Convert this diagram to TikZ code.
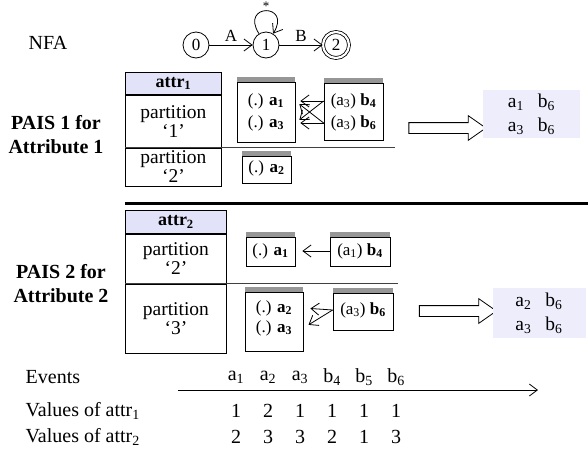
\documentclass[tikz,border=0pt]{standalone}
\usepackage{fontspec}
\setmainfont{Liberation Serif}
\usetikzlibrary{automata,positioning,arrows.meta,shapes.arrows}
\definecolor{headfill}{RGB}{226,226,248}
\definecolor{resfill}{RGB}{237,237,252}
\definecolor{bargray}{RGB}{150,150,150}

\begin{document}
\begin{tikzpicture}[x=1pt,y=-1pt,line width=0.8pt,>={Straight Barb[length=8pt,width=12pt]},
	font=\fontsize{20}{22}\selectfont,
	every state/.style={draw,minimum size=26pt,inner sep=0pt,font=\fontsize{17}{17}\selectfont},
	accepting/.style={double,double distance=2.2pt},
	every loop/.style={looseness=6.5,min distance=0pt,out=122,in=58},
	pais/.style={align=center,font=\bfseries\fontsize{20}{24}\selectfont},
	head/.style={draw,fill=headfill,inner sep=0pt,anchor=north west,font=\bfseries\fontsize{18}{20}\selectfont},
	part/.style={draw,inner sep=0pt,anchor=north,align=center,font=\fontsize{19.5}{19}\selectfont},
	box/.style={draw,inner sep=0pt},
	entry/.style={inner sep=0pt,font=\fontsize{17}{17}\selectfont},
	rule/.style={draw=black!75,line width=1.2pt},
	result/.style={fill=resfill,inner sep=0pt,align=center,font=\fontsize{19.5}{24}\selectfont},
	bigarrow/.style={draw,single arrow,single arrow head extend=7pt,single arrow tip angle=70,inner xsep=0pt,inner ysep=5pt,minimum height=77pt}]
\useasboundingbox (0,0) rectangle (588,450);

% NFA
\node (nfa) at (48,43) {NFA};
\begin{scope}[node distance=70pt,on grid,auto]
	\node[state] (q_0) at (196,45) {0};
	\node[state] (q_1) [right=of q_0] {1};
	\node[state,accepting] (q_2) [right=of q_1] {2};
	\path[->,font=\fontsize{17}{17}\selectfont]
	(q_0) edge node {A} (q_1)
	(q_1) edge node {B} (q_2)
	(q_1) edge [loop above] node [inner sep=0pt,font=\fontsize{13}{13}\selectfont] {*} (q_1);
\end{scope}

% PAIS 1
\node[pais] (pais1) at (56,135) {PAIS 1 for\\Attribute 1};
\node[head,minimum width=96pt,minimum height=22pt] (attr1) at (125,72) {attr\textsubscript{1}};
\node[part,minimum width=96pt,minimum height=52pt] (part1a) at (attr1.south) {partition\\‘1’};
\node[part,minimum width=96pt,minimum height=38pt] (part1b) at (part1a.south) {partition\\‘2’};
\coordinate (rule1) at (395,146);
\draw[rule] (part1a.south west) -- (part1a.south west -| rule1);

\node[box,minimum width=58pt,minimum height=60pt] (box1a) at (266,112) {};
\node[box,minimum width=59pt,minimum height=57pt] (box1b) at (353.5,111.5) {};
\node[box,minimum width=49pt,minimum height=27pt] (box1c) at (266.5,169.5) {};
\node[entry] (e1a1) at (266,101) {(.) \textbf{a\textsubscript{1}}};
\node[entry] (e1a3) at (266,123) {(.) \textbf{a\textsubscript{3}}};
\node[entry] (e1b4) at (353.5,101) {(a\textsubscript{3}) \textbf{b\textsubscript{4}}};
\node[entry] (e1b6) at (353.5,123) {(a\textsubscript{3}) \textbf{b\textsubscript{6}}};
\node[entry] (e1a2) at (266.5,168) {(.) \textbf{a\textsubscript{2}}};
\draw[->,shorten >=5pt] (e1b4 -| box1b.west) -- (e1a1 -| box1a.east);
\draw[->,shorten >=5pt] (e1b4 -| box1b.west) -- (e1a3 -| box1a.east);
\draw[->,shorten >=5pt] (e1b6 -| box1b.west) -- (e1a1 -| box1a.east);
\draw[->,shorten >=5pt] (e1b6 -| box1b.west) -- (e1a3 -| box1a.east);

\node[bigarrow] (arr1) at (443.5,128) {};
\node[result,minimum width=97pt,minimum height=48pt] (res1) at (531.5,114)
	{a\textsubscript{1}\hspace{14pt}b\textsubscript{6}\\a\textsubscript{3}\hspace{14pt}b\textsubscript{6}};

% separator
\coordinate (sepL) at (125,203);
\coordinate (sepR) at (588,203);
\draw[line width=3pt] (sepL) -- (sepR);

% PAIS 2
\node[pais] (pais2) at (61,284) {PAIS 2 for\\Attribute 2};
\node[head,minimum width=101pt,minimum height=23pt] (attr2) at (125,210) {attr\textsubscript{2}};
\node[part,minimum width=101pt,minimum height=49pt] (part2a) at (attr2.south) {partition\\‘2’};
\node[part,minimum width=101pt,minimum height=69pt] (part2b) at (part2a.south) {partition\\‘3’};
\coordinate (rule2) at (398,282);
\draw[rule] (part2a.south west) -- (part2a.south west -| rule2);

\node[box,minimum width=49pt,minimum height=29pt] (box2a) at (270.5,251.5) {};
\node[box,minimum width=60pt,minimum height=29pt] (box2b) at (360,251.5) {};
\node[box,minimum width=58pt,minimum height=59pt] (box2c) at (274,321.5) {};
\node[box,minimum width=60pt,minimum height=37pt] (box2d) at (363,311.5) {};
\node[entry] (e2a1) at (270.5,251) {(.) \textbf{a\textsubscript{1}}};
\node[entry] (e2b4) at (360,251) {(a\textsubscript{1}) \textbf{b\textsubscript{4}}};
\node[entry] (e2a2) at (274,308) {(.) \textbf{a\textsubscript{2}}};
\node[entry] (e2a3) at (274,328) {(.) \textbf{a\textsubscript{3}}};
\node[entry] (e2b6) at (363,310) {(a\textsubscript{3}) \textbf{b\textsubscript{6}}};
\draw[->,shorten >=7pt] (e2b4 -| box2b.west) -- (e2a1 -| box2a.east);
\draw[->,shorten >=7pt] (e2b6 -| box2d.west) -- (e2a2 -| box2c.east);
\draw[->,shorten >=6pt] (e2b6 -| box2d.west) -- (e2a3 -| box2c.east);

\node[bigarrow] (arr2) at (454,311) {};
\node[result,minimum width=93pt,minimum height=50pt] (res2) at (539,313)
	{a\textsubscript{2}\hspace{14pt}b\textsubscript{6}\\a\textsubscript{3}\hspace{14pt}b\textsubscript{6}};

% gray bars on top of the boxes
\foreach \b in {box1a,box1b,box1c,box2a,box2b,box2c,box2d}
	\fill[bargray] (\b.north west) rectangle ([yshift=5pt]\b.north east);

% events
\coordinate (tstart) at (178,390);
\coordinate (tend) at (538,390);
\draw[->] (tstart) -- (tend);
\node[anchor=west] (events) at (22,377) {Events};
\node[anchor=west] (vals1) at (22,411) {Values of attr\textsubscript{1}};
\node[anchor=west] (vals2) at (22,437) {Values of attr\textsubscript{2}};
\foreach \n/\e/\u/\v [count=\i from 0] in {a/1/1/2,a/2/2/3,a/3/1/3,b/4/1/2,b/5/1/1,b/6/1/3}{
	\node (ev\i) at (236+32*\i,377) {\n\textsubscript{\e}};
	\node (va\i) at (236+32*\i,411) {\u};
	\node (vb\i) at (236+32*\i,437) {\v};
}
\end{tikzpicture}
\end{document}
